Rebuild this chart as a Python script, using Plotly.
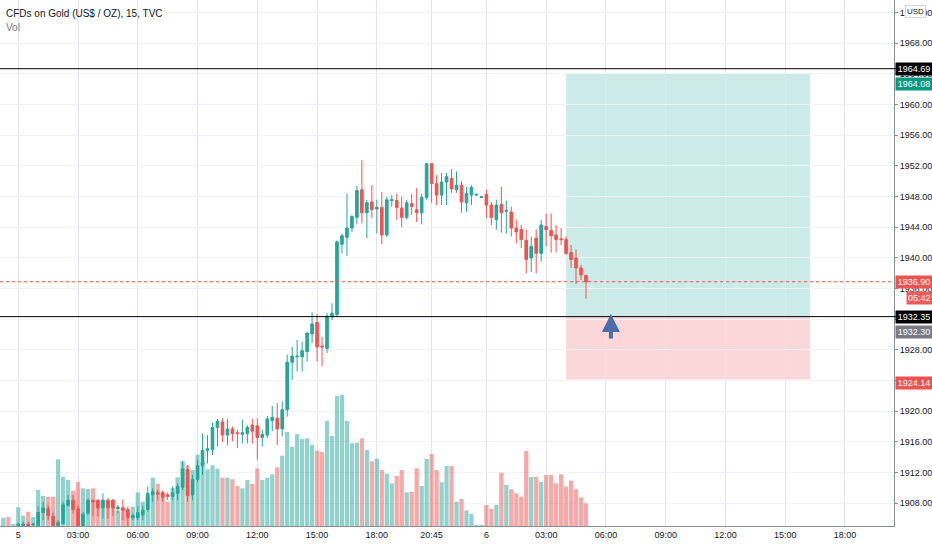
import plotly.graph_objects as go

# 15 min gold candles (index 0 = first bar on the left)
opens = [1904.7, 1904.8, 1904.6, 1905.1, 1905.1, 1905.3, 1905.2, 1905.1, 1906.8, 1907.3,
         1906.3, 1905.1, 1905.4, 1907.7, 1908.4, 1907.3, 1905.1, 1906.7, 1908.4, 1908.4,
         1907.4, 1908.4, 1908.4, 1907.3, 1907.4, 1907.2, 1906.1, 1906.1, 1906.5, 1907.2,
         1909.1, 1909.4, 1909.4, 1909.1, 1908.9, 1909.3, 1910.1, 1912.4, 1909.1, 1911.1,
         1912.9, 1914.9, 1915.0, 1917.9, 1918.6, 1916.9, 1917.7, 1917.2, 1917.0, 1917.1,
         1918.2, 1918.1, 1916.6, 1916.9, 1918.8, 1919.1, 1917.7, 1920.2, 1926.4, 1927.1,
         1927.1, 1927.8, 1930.1, 1931.6, 1928.5, 1928.2, 1932.3, 1932.6, 1941.8, 1942.7,
         1943.9, 1945.3, 1948.9, 1945.9, 1947.3, 1946.4, 1946.6, 1943.0, 1947.5, 1947.5,
         1946.5, 1945.3, 1947.1, 1946.3, 1945.9, 1947.9, 1952.3, 1949.7, 1948.2, 1949.9,
         1950.4, 1948.9, 1949.5, 1947.2, 1948.2, 1948.2, 1947.9, 1948.3, 1946.9, 1945.0,
         1947.0, 1946.1, 1946.0, 1943.9, 1943.7, 1942.3, 1940.0, 1942.6, 1940.6, 1944.1,
         1943.6, 1943.0, 1942.5, 1942.4, 1940.7, 1940.0, 1938.7, 1937.7]
highs = [1904.9, 1904.9, 1904.8, 1905.5, 1905.6, 1905.6, 1905.4, 1907.6, 1908.2, 1907.8,
         1906.8, 1905.8, 1908.2, 1909.1, 1909.1, 1907.8, 1906.9, 1908.6, 1908.5, 1908.5,
         1909.3, 1908.7, 1908.6, 1907.8, 1908.5, 1907.6, 1906.7, 1907.6, 1907.7, 1910.2,
         1910.0, 1909.7, 1909.7, 1909.4, 1910.2, 1910.6, 1913.4, 1913.0, 1911.7, 1913.7,
         1917.1, 1916.9, 1918.5, 1919.0, 1919.1, 1919.0, 1918.0, 1917.6, 1918.9, 1918.2,
         1919.0, 1919.1, 1917.6, 1919.4, 1920.7, 1921.1, 1921.3, 1927.4, 1928.4, 1929.3,
         1929.1, 1930.4, 1932.9, 1932.7, 1929.7, 1932.8, 1934.1, 1942.3, 1943.2, 1948.4,
         1945.6, 1949.4, 1952.8, 1947.6, 1949.5, 1947.6, 1948.6, 1948.0, 1948.2, 1948.4,
         1948.0, 1947.6, 1948.4, 1949.1, 1948.4, 1952.4, 1952.4, 1950.8, 1951.1, 1951.1,
         1951.6, 1951.3, 1950.0, 1949.3, 1949.5, 1948.4, 1948.1, 1948.9, 1947.3, 1947.6,
         1949.3, 1947.5, 1946.7, 1945.0, 1944.3, 1943.7, 1942.8, 1943.7, 1945.0, 1945.8,
         1945.8, 1944.3, 1943.9, 1942.8, 1941.7, 1941.1, 1939.1, 1937.8]
lows = [1904.5, 1904.5, 1904.5, 1905.0, 1905.0, 1905.0, 1905.0, 1905.0, 1905.8, 1905.8,
        1905.0, 1905.0, 1905.2, 1907.6, 1906.7, 1905.0, 1905.0, 1906.5, 1906.3, 1906.3,
        1906.0, 1906.0, 1906.3, 1906.7, 1905.8, 1905.0, 1905.8, 1905.8, 1905.8, 1906.9,
        1908.2, 1908.4, 1908.2, 1908.4, 1908.4, 1908.4, 1909.7, 1908.2, 1908.4, 1910.8,
        1911.7, 1913.2, 1914.3, 1915.4, 1916.0, 1915.6, 1916.1, 1915.2, 1915.8, 1915.8,
        1915.8, 1913.7, 1915.4, 1916.5, 1917.4, 1915.6, 1916.7, 1919.3, 1924.1, 1925.2,
        1925.2, 1926.5, 1928.9, 1926.5, 1925.9, 1927.6, 1931.9, 1932.3, 1940.6, 1940.3,
        1943.4, 1944.4, 1944.5, 1942.6, 1945.2, 1943.2, 1941.8, 1942.7, 1946.7, 1945.0,
        1944.0, 1945.0, 1945.6, 1944.7, 1944.4, 1947.6, 1947.2, 1946.9, 1946.9, 1946.9,
        1948.5, 1948.5, 1945.9, 1946.0, 1946.9, 1948.1, 1947.8, 1945.2, 1944.3, 1943.7,
        1943.3, 1943.2, 1942.8, 1941.9, 1941.3, 1938.0, 1938.2, 1938.0, 1939.5, 1941.5,
        1940.7, 1940.7, 1941.7, 1940.4, 1938.7, 1936.6, 1937.1, 1934.7]
closes = [1904.8, 1904.6, 1904.7, 1905.3, 1905.3, 1905.1, 1905.3, 1906.8, 1907.4, 1906.4,
          1905.1, 1905.5, 1907.8, 1908.4, 1907.2, 1905.1, 1906.6, 1908.4, 1908.2, 1907.4,
          1908.4, 1907.4, 1907.4, 1907.5, 1907.1, 1906.1, 1906.4, 1906.8, 1907.1, 1909.3,
          1909.5, 1909.2, 1908.8, 1908.9, 1909.4, 1910.2, 1912.5, 1909.0, 1911.1, 1912.9,
          1914.9, 1915.1, 1917.9, 1918.7, 1916.9, 1917.7, 1917.1, 1917.1, 1917.2, 1917.9,
          1917.4, 1916.6, 1917.0, 1919.0, 1919.2, 1917.7, 1920.2, 1926.4, 1927.2, 1927.2,
          1927.9, 1930.2, 1931.4, 1928.4, 1928.4, 1932.4, 1932.8, 1942.1, 1942.9, 1943.9,
          1945.4, 1948.8, 1945.9, 1947.2, 1946.3, 1946.6, 1943.0, 1947.6, 1947.6, 1946.6,
          1945.3, 1947.2, 1946.7, 1945.9, 1947.9, 1952.3, 1949.7, 1948.2, 1949.9, 1950.6,
          1949.0, 1949.5, 1947.3, 1948.4, 1949.2, 1948.3, 1948.0, 1946.9, 1945.3, 1946.9,
          1945.9, 1946.2, 1943.9, 1943.4, 1942.4, 1939.8, 1941.5, 1940.6, 1944.3, 1943.7,
          1942.9, 1942.4, 1942.4, 1940.6, 1939.8, 1938.7, 1937.8, 1936.9]
volumes = [830, 900, 200, 1870, 1030, 1430, 900, 3600, 3000, 2930,
           2930, 6670, 4900, 4600, 3530, 4430, 3770, 3700, 3770, 2600,
           2600, 2600, 2600, 1500, 1870, 1530, 1930, 3370, 2430, 2930,
           4830, 4230, 3330, 2430, 3800, 4870, 6500, 6030, 5600, 7130,
           6400, 5670, 6070, 5730, 4830, 4830, 4670, 4000, 3770, 4600,
           4200, 5770, 4600, 4830, 5170, 5870, 7030, 9400, 7930, 9200,
           8700, 8770, 8100, 7530, 7400, 10500, 9000, 13000, 13130, 10500,
           8270, 8330, 8770, 7600, 6470, 6730, 5600, 5230, 4270, 5000,
           5600, 3370, 3430, 5770, 4000, 6700, 7200, 5600, 4370, 6000,
           6000, 2430, 2700, 1570, 1200, 100, 100, 2100, 1700, 2100,
           5330, 4100, 3670, 3270, 2930, 7500, 4900, 4900, 4400, 5100,
           5100, 4270, 5170, 3930, 4530, 3670, 2870, 2270]

# time axis labels (bar index -> label)
tick_pos = [3, 15, 27, 39, 51, 63, 75, 86, 97, 109, 121, 133, 145, 157, 169]
tick_text = ["5", "03:00", "06:00", "09:00", "12:00", "15:00", "18:00", "20:45",
             "6", "03:00", "06:00", "09:00", "12:00", "15:00", "18:00"]

# long position tool
entry = 1932.35
target = 1964.08
stop = 1924.14
pos_start, pos_end = 113, 162
resistance = 1964.69
last_price = 1936.90
countdown = "05:42"
arrow_bar = 122

UP = "#26a69a"
DOWN = "#ef5350"
FONT = "Liberation Sans, Arial, sans-serif"

idx = list(range(len(opens)))
vol_colors = ["rgba(38,166,154,0.5)" if c >= o else "rgba(239,83,80,0.5)"
              for o, c in zip(opens, closes)]

fig = go.Figure()
fig.add_trace(go.Bar(x=idx, y=volumes, marker_color=vol_colors, marker_line_width=0,
                     yaxis="y", hoverinfo="skip"))
fig.add_trace(go.Candlestick(x=idx, open=opens, high=highs, low=lows, close=closes,
                             yaxis="y2",
                             increasing=dict(line=dict(color=UP, width=1), fillcolor=UP),
                             decreasing=dict(line=dict(color=DOWN, width=1), fillcolor=DOWN),
                             whiskerwidth=0))

shapes = [
    dict(type="rect", xref="x", yref="y2", x0=pos_start, x1=pos_end, y0=entry, y1=target,
         fillcolor="rgba(0,150,136,0.2)", line_width=0, layer="below"),
    dict(type="rect", xref="x", yref="y2", x0=pos_start, x1=pos_end, y0=stop, y1=entry,
         fillcolor="rgba(242,54,69,0.2)", line_width=0, layer="below"),
    dict(type="line", xref="paper", yref="y2", x0=0, x1=1.01, y0=resistance, y1=resistance,
         line=dict(color="#000000", width=1)),
    dict(type="line", xref="paper", yref="y2", x0=0, x1=1.01, y0=entry, y1=entry,
         line=dict(color="#000000", width=1)),
    dict(type="line", xref="paper", yref="y2", x0=0, x1=1, y0=last_price, y1=last_price,
         line=dict(color=DOWN, width=1, dash="dot")),
]


def price_tag(value, text, bg, shift=0):
    return dict(xref="paper", yref="y2", x=1, y=value, xanchor="left", yanchor="middle",
                xshift=1, yshift=shift, text=text, showarrow=False, bgcolor=bg,
                width=34, align="center", borderpad=1,
                font=dict(family=FONT, size=9, color="white"))


annotations = [
    dict(xref="paper", yref="paper", x=0, y=1, xanchor="left", yanchor="top", xshift=4,
         yshift=-6, text="CFDs on Gold (US$ / OZ), 15, TVC", showarrow=False,
         font=dict(family=FONT, size=10, color="#131722")),
    dict(xref="paper", yref="paper", x=0, y=1, xanchor="left", yanchor="top", xshift=4,
         yshift=-20, text="Vol", showarrow=False,
         font=dict(family=FONT, size=10, color="#787b86")),
    dict(xref="paper", yref="paper", x=1, y=1, xanchor="left", yanchor="top", xshift=11,
         yshift=-5, text="USD", showarrow=False, bgcolor="white", bordercolor="#d1d4dc",
         borderwidth=1, borderpad=1, font=dict(family=FONT, size=8, color="#131722")),
    price_tag(resistance, "%.2f" % resistance, "#000000"),
    price_tag(target, "%.2f" % target, "#089981", -11),
    price_tag(last_price, "%.2f" % last_price, DOWN),
    dict(xref="paper", yref="y2", x=1, y=last_price, xanchor="left", yanchor="middle",
         xshift=12, yshift=-16, text=countdown, showarrow=False, bgcolor="#f05a5a",
         borderpad=1, font=dict(family=FONT, size=9, color="white")),
    price_tag(entry, "%.2f" % entry, "#000000"),
    price_tag(entry - 0.05, "%.2f" % (entry - 0.05), "#787b86", -15),
    price_tag(stop, "%.2f" % stop, DOWN, -3),
    dict(xref="x", yref="y2", x=arrow_bar, y=entry + 0.35, ax=0, ay=26, text="",
         showarrow=True, arrowhead=2, arrowsize=0.9, arrowwidth=4, arrowcolor="#4a6da7"),
]

fig.update_layout(
    width=932, height=550,
    margin=dict(l=0, r=38, t=0, b=24, autoexpand=False),
    paper_bgcolor="white", plot_bgcolor="white",
    showlegend=False, bargap=0.15, boxgap=0.25,
    font=dict(family=FONT, size=9, color="#131722"),
    xaxis=dict(range=[-0.67, 178.85], tickvals=tick_pos, ticktext=tick_text,
               showgrid=True, gridcolor="#e3e5eb", gridwidth=1, zeroline=False,
               showline=True, linecolor="#8a8d96", linewidth=1, ticks="",
               rangeslider=dict(visible=False), automargin=False,
               tickfont=dict(size=9, color="#131722")),
    yaxis=dict(range=[0, 52600], visible=False, showgrid=False, fixedrange=True),
    yaxis2=dict(overlaying="y", side="right", range=[1905.04, 1973.65],
                tick0=1908, dtick=4, tickformat=".2f", showgrid=True,
                gridcolor="#f2f3f6", zeroline=False, showline=True, automargin=False,
                linecolor="#8a8d96", ticks="outside", ticklen=3, tickcolor="#8a8d96",
                tickfont=dict(size=9, color="#131722")),
    shapes=shapes,
    annotations=annotations,
)

# page has a default body margin; drop it so the chart sits at the window corner
fig.write_html("out.html", config={"displayModeBar": False},
               post_script="document.body.style.margin='0';"
               "document.body.style.overflow='hidden';")
